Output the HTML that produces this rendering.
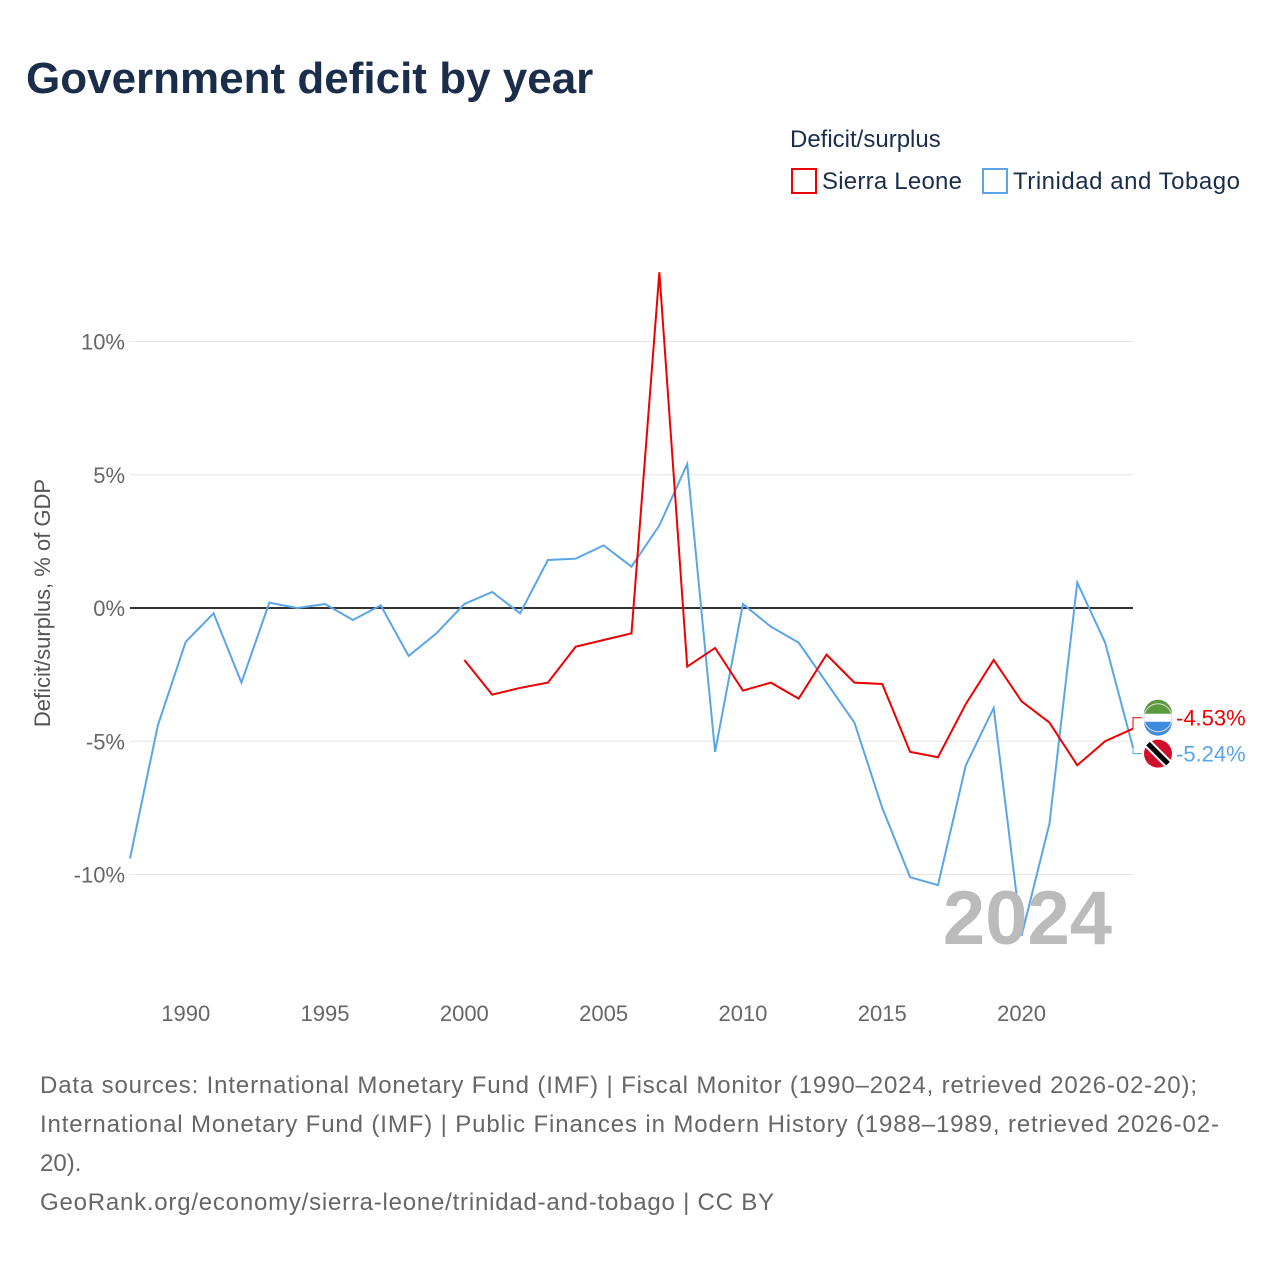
<!DOCTYPE html>
<html><head><meta charset="utf-8"><style>
body{margin:0;background:#fff;font-family:"Liberation Sans",sans-serif;}
</style></head><body>
<svg id="chart" width="1280" height="1280" xmlns="http://www.w3.org/2000/svg" style="font-family:'Liberation Sans',sans-serif">
<text x="26" y="93" font-size="44" font-weight="bold" fill="#1a2e4c">Government deficit by year</text>
<text x="790" y="147" font-size="24" fill="#1a2e4c">Deficit/surplus</text>
<g><rect x="792" y="169" width="24" height="24" fill="none" stroke="#ee0000" stroke-width="2"/><text x="822" y="189" font-size="24" fill="#1a2e4c" textLength="140">Sierra Leone</text></g>
<g><rect x="983" y="169" width="24" height="24" fill="none" stroke="#5aa5ea" stroke-width="2"/><text x="1013" y="189" font-size="24" fill="#1a2e4c" textLength="227">Trinidad and Tobago</text></g>
<text transform="translate(50,603) rotate(-90)" text-anchor="middle" font-size="22" fill="#555">Deficit/surplus, % of GDP</text>
<g id="grid"></g><g id="series"></g>
<text x="1112" y="944" text-anchor="end" font-size="76" font-weight="bold" fill="#bbb">2024</text>
<text x="40" y="1093" font-size="24" fill="#666" textLength="1157">Data sources: International Monetary Fund (IMF) | Fiscal Monitor (1990–2024, retrieved 2026-02-20);</text>
<text x="40" y="1132" font-size="24" fill="#666" textLength="1179">International Monetary Fund (IMF) | Public Finances in Modern History (1988–1989, retrieved 2026-02-</text>
<text x="40" y="1171" font-size="24" fill="#666">20).</text>
<text x="40" y="1210" font-size="24" fill="#666" textLength="734">GeoRank.org/economy/sierra-leone/trinidad-and-tobago | CC BY</text>
</svg>
<script>
const yTicks=[10,5,0,-5,-10];
const xTicks=[1990,1995,2000,2005,2010,2015,2020];
const ttYears=[1988,1989,1990,1991,1992,1993,1994,1995,1996,1997,1998,1999,2000,2001,2002,2003,2004,2005,2006,2007,2008,2009,2010,2011,2012,2013,2014,2015,2016,2017,2018,2019,2020,2021,2022,2023,2024];
const ttValues=[-9.4,-4.4,-1.27,-0.2,-2.8,0.2,0,0.15,-0.45,0.1,-1.8,-0.95,0.15,0.6,-0.2,1.8,1.85,2.35,1.55,3.1,5.4,-5.4,0.15,-0.7,-1.3,-2.8,-4.3,-7.5,-10.1,-10.4,-5.9,-3.75,-12.3,-8.1,0.95,-1.3,-5.24];
const slYears=[2000,2001,2002,2003,2004,2005,2006,2007,2008,2009,2010,2011,2012,2013,2014,2015,2016,2017,2018,2019,2020,2021,2022,2023,2024];
const slValues=[-1.95,-3.25,-3.0,-2.8,-1.45,-1.2,-0.95,12.6,-2.2,-1.5,-3.1,-2.8,-3.4,-1.75,-2.8,-2.85,-5.4,-5.6,-3.6,-1.95,-3.5,-4.3,-5.9,-5.0,-4.53];
const X=y=>130+(y-1988)*(1133-130)/36;
const Y=v=>608-v*26.65;
const NS="http://www.w3.org/2000/svg";
const grid=document.getElementById('grid'),series=document.getElementById('series');
function mk(t,a,p){const e=document.createElementNS(NS,t);for(const k in a)e.setAttribute(k,a[k]);p.appendChild(e);return e;}
yTicks.forEach(v=>{
 const l=mk('line',{x1:130,x2:1133,y1:Y(v),y2:Y(v),stroke:v===0?'#333':'#e6e6e6','stroke-width':v===0?2:1},grid);
 
 
 const t=mk('text',{x:125,y:Y(v)+8,'text-anchor':'end','font-size':22,fill:'#666'},grid);
 t.textContent=v+'%';
 
 
});
xTicks.forEach(y=>{
 const t=mk('text',{x:X(y),y:1021,'text-anchor':'middle','font-size':22,fill:'#666'},grid);
 t.textContent=y;
 
 
});
function line(ys,vs,c,name){
 const p=mk('polyline',{points:ys.map((y,i)=>X(y)+','+Y(vs[i])).join(' '),fill:'none',stroke:c,'stroke-width':2},series);
 
 
}
line(ttYears,ttValues,'#5aa5ea','trinidad-line');
line(slYears,slValues,'#ee0000','sierra-leone-line');
function label(v,c,ly,name,flag){
 const y=Y(v);
 const g=mk('g',{},series);
 
 
 mk('polyline',{points:`1133,${y} 1133,${ly} 1142,${ly}`,fill:'none',stroke:c,'stroke-width':1},g);
 flag(g,ly);
 const t=mk('text',{x:1176,y:ly+8,'font-size':22,fill:c},g);
 t.textContent=v.toFixed(2)+'%';
}
label(slValues[slValues.length-1],'#ee0000',Y(-4.53)-11,'sierra-leone-end-label',(g,y)=>{
 mk('circle',{cx:1158,cy:y,r:14,fill:'#fff'},g);
 mk('path',{d:`M1144,${y-4} A14,14 0 0 1 1172,${y-4} Z`,fill:'#5a9a3c'},g);
 mk('path',{d:`M1144,${y+4} A14,14 0 0 0 1172,${y+4} Z`,fill:'#3d8be0'},g);
 mk('circle',{cx:1158,cy:y,r:14,fill:'none',stroke:'#ddd','stroke-width':1},g);
});
label(ttValues[ttValues.length-1],'#5aa5ea',Y(-5.24)+6,'trinidad-end-label',(g,y)=>{
 mk('circle',{cx:1158,cy:y,r:14,fill:'#d0102a'},g);
 mk('line',{x1:1148,y1:y-10,x2:1168,y2:y+10,stroke:'#fff','stroke-width':9},g);
 mk('line',{x1:1148,y1:y-10,x2:1168,y2:y+10,stroke:'#000','stroke-width':5},g);
});
</script>
</body></html>
